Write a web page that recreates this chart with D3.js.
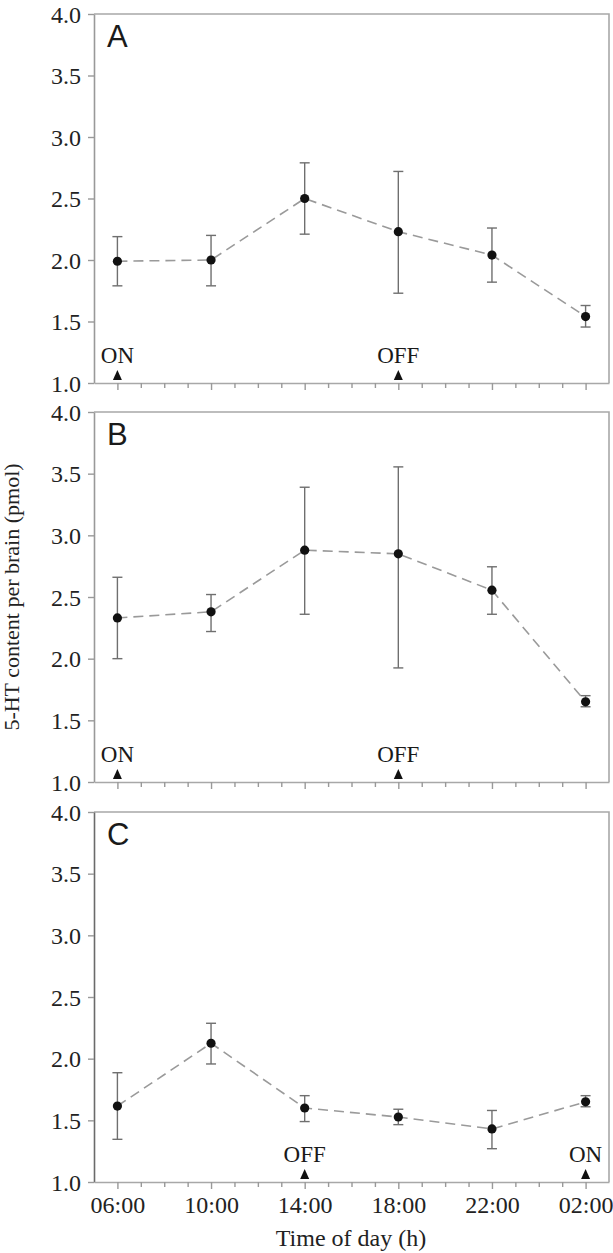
<!DOCTYPE html>
<html>
<head>
<meta charset="utf-8">
<script src="https://cdn.jsdelivr.net/npm/d3@7/dist/d3.min.js"></script>
<style>
  html, body { margin: 0; padding: 0; background: #fff; }
  svg { display: block; }
</style>
</head>
<body>
<svg id="chart" width="613" height="1253"></svg>
<script>
// Sampling times (hours, 02:00 of the next day = 26)
const hours = [6, 10, 14, 18, 22, 26];
const hourLabels = ["06:00", "10:00", "14:00", "18:00", "22:00", "02:00"];
const yTicks = [1.0, 1.5, 2.0, 2.5, 3.0, 3.5, 4.0];

// Panel A
const meanA  = [1.99, 2.00, 2.50, 2.23, 2.04, 1.54];
const upperA = [2.19, 2.20, 2.79, 2.72, 2.26, 1.63];
const lowerA = [1.79, 1.79, 2.21, 1.73, 1.82, 1.455];
const lightsA = [{ hour: 6, text: "ON" }, { hour: 18, text: "OFF" }];

// Panel B
const meanB  = [2.33, 2.38, 2.88, 2.85, 2.555, 1.65];
const upperB = [2.66, 2.52, 3.39, 3.555, 2.745, 1.70];
const lowerB = [2.00, 2.22, 2.36, 1.925, 2.36, 1.61];
const lightsB = [{ hour: 6, text: "ON" }, { hour: 18, text: "OFF" }];

// Panel C
const meanC  = [1.616, 2.125, 1.60, 1.527, 1.43, 1.65];
const upperC = [1.886, 2.287, 1.70, 1.59, 1.58, 1.70];
const lowerC = [1.346, 1.957, 1.49, 1.465, 1.27, 1.61];
const lightsC = [{ hour: 14, text: "OFF" }, { hour: 26, text: "ON" }];

const panels = [
  { name: "A", mean: meanA, upper: upperA, lower: lowerA, lights: lightsA, top: 14,  bottom: 383,  labels: false },
  { name: "B", mean: meanB, upper: upperB, lower: lowerB, lights: lightsB, top: 412, bottom: 782,  labels: false },
  { name: "C", mean: meanC, upper: upperC, lower: lowerC, lights: lightsC, top: 812, bottom: 1182, labels: true }
];

const svg = d3.select("#chart");
const left = 94, right = 609;
const serif = "'Liberation Serif', 'Times New Roman', serif";
const sans = "'Liberation Sans', Arial, sans-serif";
const frameColor = "#a8a8a8";

const x = d3.scaleLinear().domain([5, 27]).range([left, right]);
const hourTicks = d3.range(6, 27);

panels.forEach(p => {
  const y = d3.scaleLinear().domain([1, 4]).range([p.bottom, p.top]);
  const g = svg.append("g");

  // frame: top and right borders
  g.append("path")
    .attr("d", `M${left},${p.top}H${right}V${p.bottom}`)
    .attr("fill", "none")
    .attr("stroke", frameColor)
    .attr("stroke-width", 1.6);

  // y axis
  const yAxis = d3.axisLeft(y)
    .tickValues(yTicks)
    .tickFormat(d3.format(".1f"))
    .tickSize(6)
    .tickSizeOuter(0)
    .tickPadding(7);
  const ya = g.append("g").attr("transform", `translate(${left},0)`).call(yAxis);
  ya.attr("font-family", serif).attr("font-size", 24);
  ya.select(".domain").attr("stroke", p.name === "C" ? "#6a6a6a" : "#999").attr("stroke-width", 1.6);
  ya.selectAll(".tick line").attr("stroke", "#999").attr("stroke-width", 1.4);
  ya.selectAll(".tick text")
    .attr("fill", "#222")
    .attr("dy", "0.34em");

  // x axis with hourly ticks
  const xAxis = d3.axisBottom(x)
    .tickValues(hourTicks)
    .tickFormat(d => {
      const i = hours.indexOf(d);
      return p.labels && i >= 0 ? hourLabels[i] : "";
    })
    .tickSize(5)
    .tickSizeOuter(0)
    .tickPadding(9);
  const xa = g.append("g").attr("transform", `translate(0,${p.bottom})`).call(xAxis);
  xa.attr("font-family", serif).attr("font-size", 24);
  xa.select(".domain").attr("stroke", frameColor).attr("stroke-width", 1.6);
  xa.selectAll(".tick line")
    .attr("stroke", "#999")
    .attr("stroke-width", 1.4)
    .attr("y2", d => hours.includes(d) ? 7 : 5);
  xa.selectAll(".tick text").attr("fill", "#222");

  // panel letter
  g.append("text")
    .attr("x", 107)
    .attr("y", p.top + 33)
    .attr("font-family", sans)
    .attr("font-size", 31)
    .attr("fill", "#1a1a1a")
    .text(p.name);

  // lights on/off markers
  p.lights.forEach(l => {
    const cx = x(l.hour);
    g.append("path")
      .attr("d", `M${cx},${p.bottom - 13}L${cx + 4.5},${p.bottom - 3}L${cx - 4.5},${p.bottom - 3}Z`)
      .attr("fill", "#111");
    g.append("text")
      .attr("x", cx)
      .attr("y", p.bottom - 20)
      .attr("text-anchor", "middle")
      .attr("font-family", serif)
      .attr("font-size", 23)
      .attr("fill", "#1a1a1a")
      .text(l.text);
  });

  const pts = hours.map((h, i) => ({ h, m: p.mean[i], hi: p.upper[i], lo: p.lower[i] }));

  // dashed connecting line
  g.append("path")
    .datum(pts)
    .attr("d", d3.line().x(d => x(d.h)).y(d => y(d.m)))
    .attr("fill", "none")
    .attr("stroke", "#9a9a9a")
    .attr("stroke-width", 1.6)
    .attr("stroke-dasharray", "10,6");

  // error bars
  const eb = g.append("g").attr("stroke", "#6f6f6f").attr("stroke-width", 1.4);
  pts.forEach(d => {
    const cx = x(d.h);
    eb.append("line").attr("x1", cx).attr("x2", cx).attr("y1", y(d.hi)).attr("y2", y(d.lo));
    eb.append("line").attr("x1", cx - 5).attr("x2", cx + 5).attr("y1", y(d.hi)).attr("y2", y(d.hi));
    eb.append("line").attr("x1", cx - 5).attr("x2", cx + 5).attr("y1", y(d.lo)).attr("y2", y(d.lo));
  });

  // means
  g.selectAll("circle.mean")
    .data(pts)
    .join("circle")
    .attr("class", "mean")
    .attr("cx", d => x(d.h))
    .attr("cy", d => y(d.m))
    .attr("r", 4.6)
    .attr("fill", "#111");
});

// axis titles
svg.append("text")
  .attr("transform", `translate(19,597) rotate(-90)`)
  .attr("text-anchor", "middle")
  .attr("font-family", serif)
  .attr("font-size", 22)
  .attr("fill", "#222")
  .text("5-HT content per brain (pmol)");

svg.append("text")
  .attr("x", 351)
  .attr("y", 1246)
  .attr("text-anchor", "middle")
  .attr("font-family", serif)
  .attr("font-size", 24)
  .attr("fill", "#222")
  .text("Time of day (h)");
</script>
</body>
</html>
